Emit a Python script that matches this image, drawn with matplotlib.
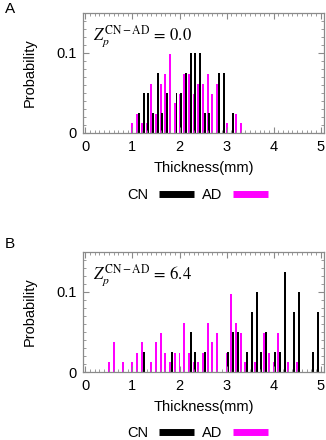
import numpy as np
import matplotlib
matplotlib.use("Agg")
import matplotlib.pyplot as plt
from matplotlib.lines import Line2D
from matplotlib.ticker import MultipleLocator

plt.rcParams['font.family'] = ['Liberation Sans', 'DejaVu Sans']
plt.rcParams['mathtext.fontset'] = 'stix'

# panel A: Z = 0.0
thick_a = [1.0, 1.1, 1.2, 1.3, 1.4, 1.5, 1.6, 1.7, 1.8, 1.9, 2.0, 2.1,
           2.2, 2.3, 2.4, 2.5, 2.6, 2.7, 2.8, 2.9, 3.0, 3.1, 3.2, 3.3]
ad_a = [0.012, 0.024, 0.012, 0.012, 0.061, 0.024, 0.061, 0.073, 0.098, 0.037, 0.049, 0.073,
        0.073, 0.049, 0.061, 0.061, 0.073, 0.049, 0.061, 0.0, 0.012, 0.0, 0.024, 0.012]
cn_a = [0.0, 0.025, 0.05, 0.05, 0.025, 0.075, 0.025, 0.05, 0.0, 0.05, 0.05, 0.075,
        0.1, 0.1, 0.1, 0.025, 0.025, 0.0, 0.075, 0.075, 0.0, 0.025, 0.0, 0.0]

# panel B: Z = 6.4
thick_b = [0.5, 0.6, 0.7, 0.8, 0.9, 1.0, 1.1, 1.2, 1.3, 1.4, 1.5, 1.6, 1.7, 1.8, 1.9,
           2.0, 2.1, 2.2, 2.3, 2.4, 2.5, 2.6, 2.7, 2.8, 2.9, 3.0, 3.1, 3.2, 3.3, 3.4,
           3.5, 3.6, 3.7, 3.8, 3.9, 4.0, 4.1, 4.2, 4.3, 4.4, 4.5, 4.6, 4.7, 4.8, 4.9]
ad_b = [0.012, 0.037, 0.0, 0.012, 0.0, 0.012, 0.024, 0.037, 0.0, 0.012, 0.037, 0.049, 0.024, 0.012, 0.024,
        0.024, 0.061, 0.024, 0.012, 0.012, 0.024, 0.061, 0.037, 0.049, 0.0, 0.024, 0.098, 0.061, 0.049, 0.012,
        0.0, 0.012, 0.0, 0.049, 0.024, 0.012, 0.049, 0.0, 0.012, 0.0, 0.012, 0.0, 0.0, 0.0, 0.0]
cn_b = [0.0, 0.0, 0.0, 0.0, 0.0, 0.0, 0.0, 0.025, 0.0, 0.0, 0.0, 0.0, 0.0, 0.025, 0.0,
        0.0, 0.0, 0.05, 0.025, 0.0, 0.025, 0.0, 0.0, 0.0, 0.0, 0.025, 0.05, 0.05, 0.0, 0.025,
        0.075, 0.1, 0.025, 0.05, 0.0, 0.025, 0.025, 0.125, 0.0, 0.075, 0.1, 0.0, 0.0, 0.025, 0.075]

panels = [("A", "0.0", thick_a, cn_a, ad_a), ("B", "6.4", thick_b, cn_b, ad_b)]

MAG = '#ff00ff'
GRAY = '#8a8a8a'
FS = 10.5

fig = plt.figure(figsize=(3.26, 4.40), dpi=100)

rects = [[0.256, 0.698, 0.738, 0.273], [0.256, 0.1545, 0.738, 0.273]]
letter_y = [0.995, 0.462]
legend_y = [0.557, 0.016]

for i, (letter, zval, x, cn, ad) in enumerate(panels):
    ax = fig.add_axes(rects[i])
    x = np.array(x)
    ax.bar(x, ad, width=0.042, color=MAG, linewidth=0, align='center')
    ax.bar(x + 0.036, cn, width=0.042, color='black', linewidth=0, align='center')

    ax.set_xlim(-0.04, 5.07)
    ax.set_ylim(0, 0.15)
    ax.set_xticks([0, 1, 2, 3, 4, 5])
    ax.set_xticklabels(['0', '1', '2', '3', '4', '5'])
    ax.set_yticks([0, 0.1])
    ax.set_yticklabels(['0', '0.1'])
    ax.xaxis.set_minor_locator(MultipleLocator(0.1))
    ax.yaxis.set_minor_locator(MultipleLocator(0.01))
    ax.tick_params(which='both', direction='in', top=True, right=True, color=GRAY,
                   labelsize=FS, labelcolor='black')
    ax.tick_params(which='major', length=4, pad=5)
    ax.tick_params(which='minor', length=2)
    for s in ax.spines.values():
        s.set_color(GRAY)
        s.set_linewidth(0.9)

    ax.set_xlabel('Thickness(mm)', fontsize=FS, labelpad=5)
    ax.set_ylabel('Probability', fontsize=FS, labelpad=14)

    ax.text(0.04, 0.775, r'$Z_p^{\mathrm{CN-AD}}$' + r'$\,=\,$' + zval, transform=ax.transAxes,
            fontsize=12, family='STIXGeneral', va='baseline', ha='left')

    fig.text(0.015, letter_y[i], letter, fontsize=11, va='top', ha='left')

    handles = [Line2D([0], [0], color='black', lw=5, solid_capstyle='butt'),
               Line2D([0], [0], color=MAG, lw=5, solid_capstyle='butt')]
    fig.legend(handles, ['CN', 'AD'], loc='center', ncol=2,
               bbox_to_anchor=(0.606, legend_y[i]), frameon=False, markerfirst=False,
               fontsize=FS, handlelength=2.4, handletextpad=0.7, columnspacing=0.6,
               borderpad=0.0, borderaxespad=0.0)

fig.savefig('out.png', dpi=100)
